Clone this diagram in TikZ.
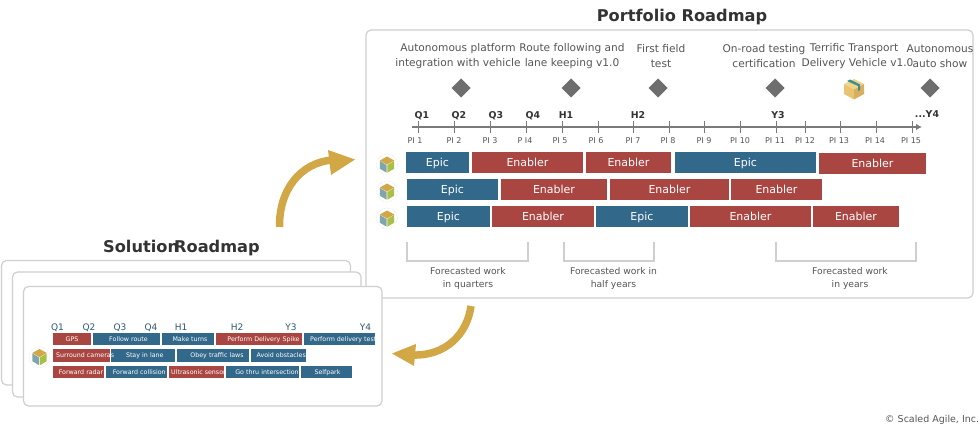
\documentclass[tikz,border=0pt]{standalone}
\usepackage{fontspec}
\usetikzlibrary{arrows.meta}
\setmainfont{DejaVu Sans}
\definecolor{epicblue}{HTML}{32688A}
\definecolor{enablerred}{HTML}{AA4641}
\definecolor{gold}{HTML}{D2A745}
\definecolor{cardline}{HTML}{CFCFCF}
\definecolor{axisgray}{HTML}{7A7A7A}
\definecolor{labelgray}{HTML}{555555}
\definecolor{titlegray}{HTML}{333333}
\definecolor{diamondgray}{HTML}{6E6E6E}
\definecolor{cubeleft}{HTML}{7FA6AC}
\definecolor{cuberight}{HTML}{A9BF45}
\definecolor{parceltop}{HTML}{F1D489}
\definecolor{parcelleft}{HTML}{E8C374}
\definecolor{parcelright}{HTML}{D9AE5F}
\definecolor{parceltape}{HTML}{3A8F8F}
\tikzset{
  card/.style={draw=cardline,line width=1.2pt,rounded corners=5pt,fill=white},
  bigtitle/.style={font=\bfseries\fontsize{16.2}{18}\selectfont,text=titlegray,inner sep=0pt},
  milestone/.style={font=\fontsize{10.6}{15}\selectfont,text=labelgray,align=center,inner sep=0pt},
  mark diamond/.style={fill=diamondgray,draw=none,inner sep=0pt},
  period/.style={font=\bfseries\fontsize{9.4}{10}\selectfont,text=titlegray,inner sep=0pt},
  pilabel/.style={font=\fontsize{8}{9}\selectfont,text=labelgray,inner sep=0pt},
  blockbase/.style={inner sep=0pt,text=white,anchor=center,text depth=0pt},
  epic/.style={blockbase,fill=epicblue,font=\fontsize{11}{12}\selectfont,text height=8pt},
  enabler/.style={blockbase,fill=enablerred,font=\fontsize{11}{12}\selectfont,text height=8pt},
  smallepic/.style={blockbase,fill=epicblue,font=\fontsize{6.3}{8}\selectfont,text height=4.6pt},
  smallenabler/.style={blockbase,fill=enablerred,font=\fontsize{6.3}{8}\selectfont,text height=4.6pt},
  smallperiod/.style={font=\fontsize{9}{10}\selectfont,text=epicblue!85!black,inner sep=0pt},
  forecast/.style={font=\fontsize{9.2}{13}\selectfont,text=labelgray,align=center,inner sep=0pt},
  bracket/.style={draw=cardline,line width=2.2pt},
  goldflow/.style={draw=gold,line width=7.5pt},
  goldhead/.style={fill=gold,draw=none},
}
% A bar spanning x1..x2 and y1..y2: name, style, x1, x2, y1, y2, text
\newcommand{\spanbar}[7]{%
  \pgfmathsetmacro{\bw}{#4-#3}\pgfmathsetmacro{\bh}{#6-#5}%
  \pgfmathsetmacro{\bx}{(#3+#4)/2}\pgfmathsetmacro{\by}{(#5+#6)/2}%
  \node[#2,minimum width=\bw pt,minimum height=\bh pt,text width=\bw pt,align=center] (#1) at (\bx,\by) {#7};%
}
% Team cube: three coloured faces inside a faint dotted ring
\newcommand{\teamcube}[3]{%
  \coordinate (#1) at (#2,#3);
  \begin{scope}[shift={(#2,#3)}]
    \draw[black!18,line width=0.4pt,densely dotted] (0,0) circle (10.5);
    \fill[gold] (0,-8) -- (7.2,-4) -- (0,0.2) -- (-7.2,-4) -- cycle;
    \fill[cubeleft]  (-7.2,-3.6) -- (-0.4,0.6) -- (-0.4,8.2) -- (-7.2,4.2) -- cycle;
    \fill[cuberight] (7.2,-3.6) -- (0.4,0.6) -- (0.4,8.2) -- (7.2,4.2) -- cycle;
  \end{scope}
}
\begin{document}
\begin{tikzpicture}[x=1pt,y=-1pt]
\useasboundingbox (0,0) rectangle (980,430);

% ---- Portfolio panel ----
\node[bigtitle] (ptitle) at (682,17) {Portfolio Roadmap};
\draw[card] (366,30) rectangle (973,298);

\node[milestone] (m1) at (458,56.5) {Autonomous platform\\integration with vehicle};
\node[milestone] (m2) at (572,56.5) {Route following and\\lane keeping v1.0};
\node[milestone] (m3) at (661,56.5) {First field\\test};
\node[milestone] (m4) at (764,56.5) {On-road testing\\certification};
\node[milestone] (m5) at (857.5,56.5) {\hspace*{-7pt}Terrific Transport\\Delivery Vehicle v1.0};
\node[milestone] (m6) at (940,56.5) {Autonomous\\auto show};

\foreach \x in {461,571,658,775,930}
  \fill[mark diamond] (\x-9.5,88) -- (\x,78.5) -- (\x+9.5,88) -- (\x,97.5) -- cycle;

% parcel icon
\fill[parceltop] (854,79) -- (864,84) -- (854,89.5) -- (844,84) -- cycle;
\fill[parcelleft] (844,84) -- (854,89.5) -- (854,99.5) -- (844,94) -- cycle;
\fill[parcelright] (864,84) -- (854,89.5) -- (854,99.5) -- (864,94) -- cycle;
\fill[parceltape] (847,81) -- (850,79.5) -- (860,84.5) -- (860,90) -- (858,91) -- (858,86) -- cycle;

% time axis
\coordinate (axisstart) at (412,127);
\coordinate (axisend) at (922,127);
\draw[axisgray,line width=1.8pt,-{Latex[length=6pt,width=6.5pt]}] (axisstart) -- (axisend);
\foreach \x in {418,454,490,526,562,598,633,669,704,740,776,805,840,876,912}
  \draw[axisgray,line width=1pt] (\x,121) -- (\x,133);

\foreach \t/\x in {Q1/422,Q2/459,Q3/496,Q4/533,H1/566,H2/638,Y3/778}
  \node[period] at (\x,115.5) {\t};
\node[period] at (927,114.5) {...Y4};

\foreach \t/\x in {PI 1/415,PI 2/454,PI 3/490,P I4/525,PI 5/560,PI 6/596,PI 7/633,PI 8/668,PI 9/704,PI 10/740,PI 11/775,PI 12/805,PI 13/839,PI 14/875,PI 15/911}
  \node[pilabel] at (\x,140.5) {\t};

% portfolio rows
\teamcube{t1}{387}{164.5}
\teamcube{t2}{387}{191.5}
\teamcube{t3}{387}{218.5}

\spanbar{a1}{epic}{406}{469}{152}{173.5}{Epic}
\spanbar{a2}{enabler}{472}{583}{152}{173.5}{Enabler}
\spanbar{a3}{enabler}{586}{671}{152}{173.5}{Enabler}
\spanbar{a4}{epic}{675}{816}{152}{173.5}{Epic}
\spanbar{a5}{enabler}{819}{926}{153}{174}{Enabler}

\spanbar{b1}{epic}{407}{498}{179}{200}{Epic}
\spanbar{b2}{enabler}{501}{607}{179}{200}{Enabler}
\spanbar{b3}{enabler}{610}{729}{179}{200}{Enabler}
\spanbar{b4}{enabler}{731}{822}{179}{200}{Enabler}

\spanbar{c1}{epic}{407}{490}{206}{227}{Epic}
\spanbar{c2}{enabler}{492}{594}{206}{227}{Enabler}
\spanbar{c3}{epic}{596}{688}{206}{227}{Epic}
\spanbar{c4}{enabler}{690}{811}{206}{227}{Enabler}
\spanbar{c5}{enabler}{813}{899}{206}{227}{Enabler}

% forecast brackets
\draw[bracket] (407,242) -- (407,261) -- (528,261) -- (528,242);
\draw[bracket] (564,242) -- (564,261) -- (654,261) -- (654,242);
\draw[bracket] (776,242) -- (776,261) -- (916,261) -- (916,242);
\node[forecast] (f1) at (468,278) {Forecasted work\\in quarters};
\node[forecast] (f2) at (613.5,278) {Forecasted work in\\half years};
\node[forecast] (f3) at (850,278) {Forecasted work\\in years};

% ---- Solution panel ----
\node[bigtitle,anchor=base west] (stitle1) at (103,253) {Solution};
\node[bigtitle,anchor=base west] (stitle2) at (174,253) {Roadmap};
\draw[card] (1.5,260.5) rectangle (350.5,385);
\draw[card] (12.5,272) rectangle (361,397);
\draw[card] (23.5,286.5) rectangle (382,406);

\foreach \t/\x in {Q1/57.5,Q2/89,Q3/120,Q4/151,H1/181,H2/237,Y3/291,Y4/365.5}
  \node[smallperiod] at (\x,327.5) {\t};

\teamcube{t4}{39.5}{357}

\spanbar{s1}{smallenabler}{53}{91}{333}{345}{GPS}
\spanbar{s2}{smallepic}{93}{160}{333}{345}{\hspace{4pt}Follow route}
\spanbar{s3}{smallepic}{162}{214}{333}{345}{\hspace{4pt}Make turns}
\spanbar{s4}{smallenabler}{216}{302}{333}{345}{\hspace{9pt}Perform Delivery Spike}
\node[smallepic,minimum width=71pt,minimum height=12pt] (s5) at (339.5,339) {};
\begin{scope}
  \clip (304,333) rectangle (375,345);
  \node[smallepic,fill=none,anchor=west] (s5t) at (310,339) {Perform delivery test};
\end{scope}

\spanbar{s6}{smallenabler}{53}{110}{349}{362}{}
\spanbar{s7}{smallepic}{110.5}{175}{349}{362}{\hspace{4pt}Stay in lane}
\node[smallepic,fill=none,anchor=west] (s6t) at (56,355.5) {Surround cameras};
\spanbar{s8}{smallepic}{177}{249}{349}{362}{\hspace{8pt}Obey traffic laws}
\spanbar{s9}{smallepic}{251}{306}{349}{362}{}
\node[smallepic,fill=none,anchor=west] (s9t) at (256.5,355.5) {Avoid obstacles};

\spanbar{s10}{smallenabler}{53}{104}{366}{378}{\hspace{5pt}Forward radar}
\spanbar{s11}{smallepic}{105.5}{167}{366}{378}{\hspace{6pt}Forward collision}
\node[smallenabler,minimum width=55pt,minimum height=12pt] (s12) at (196.5,372) {};
\begin{scope}
  \clip (169,366) rectangle (224,378);
  \node[smallenabler,fill=none,anchor=west] (s12t) at (171,372) {Ultrasonic sensor};
\end{scope}
\spanbar{s13}{smallepic}{226}{299}{366}{378}{\hspace{9pt}Go thru intersection}
\spanbar{s14}{smallepic}{301}{352}{366}{378}{\hspace{2pt}Selfpark}

% ---- Flow arrows between the panels ----
\coordinate (upstart) at (279.5,227);
\coordinate (upend) at (332,160);
\draw[goldflow] (upstart) .. controls (279,190) and (300,163) .. (upend);
\fill[goldhead] (328,150) -- (355,159.5) -- (331,175) -- cycle;

\coordinate (downstart) at (471,306);
\coordinate (downend) at (413,355);
\draw[goldflow] (downstart) .. controls (467,335) and (445,356) .. (downend);
\fill[goldhead] (416,344) -- (392,353.5) -- (414,366) -- cycle;

\node[anchor=base west,inner sep=0pt,font=\fontsize{9.5}{11}\selectfont,text=labelgray] (credit) at (885,422) {© Scaled Agile, Inc.};
\end{tikzpicture}
\end{document}
